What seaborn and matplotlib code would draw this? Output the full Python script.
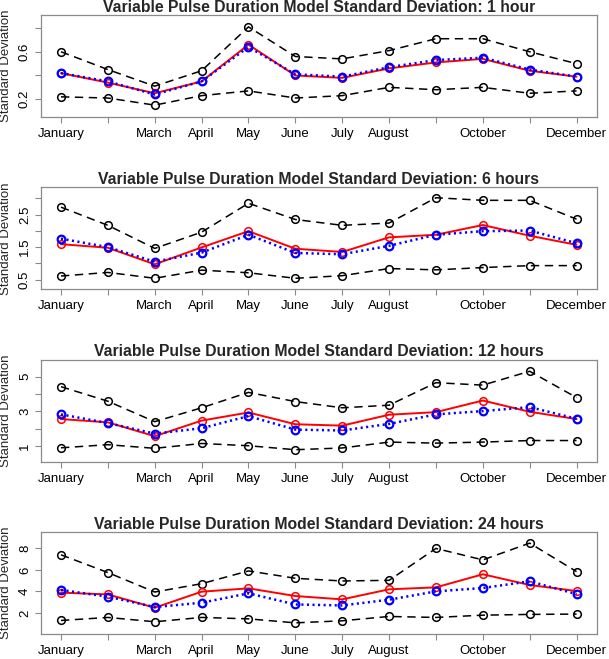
import matplotlib
matplotlib.use("Agg")
import matplotlib.pyplot as plt
import seaborn as sns
import numpy as np

month_num = list(range(1, 13))
month_labels = ["January", "", "March", "April", "May", "June", "July",
                "August", "", "October", "", "December"]
durations = ["1 hour", "6 hours", "12 hours", "24 hours"]

# 1 hour
upper_1 = [0.60, 0.45, 0.31, 0.44, 0.81, 0.56, 0.54, 0.61, 0.71, 0.71, 0.60, 0.50]
lower_1 = [0.22, 0.21, 0.15, 0.23, 0.27, 0.21, 0.23, 0.30, 0.28, 0.30, 0.25, 0.27]
red_1 = [0.42, 0.34, 0.25, 0.35, 0.66, 0.40, 0.38, 0.46, 0.51, 0.54, 0.44, 0.39]
blue_1 = [0.42, 0.35, 0.24, 0.35, 0.64, 0.41, 0.39, 0.47, 0.53, 0.55, 0.45, 0.39]

# 6 hours
upper_6 = [2.73, 2.17, 1.46, 1.96, 2.85, 2.35, 2.17, 2.24, 3.02, 2.94, 2.94, 2.36]
lower_6 = [0.61, 0.72, 0.54, 0.79, 0.71, 0.54, 0.62, 0.84, 0.80, 0.87, 0.93, 0.93]
red_6 = [1.59, 1.48, 0.97, 1.49, 1.99, 1.45, 1.35, 1.80, 1.88, 2.18, 1.85, 1.57]
blue_6 = [1.76, 1.50, 1.05, 1.33, 1.88, 1.32, 1.28, 1.54, 1.88, 1.99, 2.01, 1.62]

# 12 hours
upper_12 = [4.43, 3.59, 2.41, 3.21, 4.10, 3.57, 3.21, 3.36, 4.66, 4.52, 5.32, 3.80]
lower_12 = [0.90, 1.08, 0.87, 1.15, 1.02, 0.79, 0.89, 1.23, 1.17, 1.23, 1.32, 1.32]
red_12 = [2.56, 2.37, 1.57, 2.47, 2.94, 2.26, 2.18, 2.81, 2.96, 3.63, 2.98, 2.56]
blue_12 = [2.83, 2.33, 1.72, 2.03, 2.73, 1.95, 1.90, 2.28, 2.83, 3.02, 3.25, 2.58]

# 24 hours
upper_24 = [7.39, 5.75, 3.95, 4.72, 5.90, 5.22, 4.97, 5.03, 7.98, 6.92, 8.47, 5.84]
lower_24 = [1.32, 1.60, 1.20, 1.60, 1.47, 1.10, 1.29, 1.69, 1.60, 1.81, 1.88, 1.91]
red_24 = [3.89, 3.73, 2.50, 3.98, 4.29, 3.58, 3.27, 4.20, 4.38, 5.59, 4.60, 4.04]
blue_24 = [4.14, 3.52, 2.56, 2.96, 3.83, 2.80, 2.71, 3.24, 4.01, 4.32, 4.94, 3.76]

panels = [
    (upper_1, lower_1, red_1, blue_1),
    (upper_6, lower_6, red_6, blue_6),
    (upper_12, lower_12, red_12, blue_12),
    (upper_24, lower_24, red_24, blue_24),
]
ylims = [(0.05, 0.91), (0.2, 3.34), (0.1, 5.99), (0.07, 9.5)]
yticks = [[0.2, 0.4, 0.6, 0.8], [0.5, 1.0, 1.5, 2.0, 2.5, 3.0],
          [1, 2, 3, 4, 5], [2, 4, 6, 8]]
ytick_labels = [["0.2", "", "0.6", ""], ["0.5", "", "1.5", "", "2.5", ""],
                ["1", "", "3", "", "5"], ["2", "4", "6", "8"]]

sns.set_style("white")
plt.rcParams["font.family"] = ["Liberation Sans", "DejaVu Sans"]
plt.rcParams["lines.scale_dashes"] = False

W, H = 609, 659
fig = plt.figure(figsize=(W / 100, H / 100), dpi=100)
box_color = "#8a8a8a"

for i, (up, lo, red, blue) in enumerate(panels):
    top = 15 + 172.33 * i
    ax = fig.add_axes([40.7 / W, 1 - (top + 102) / H, 556 / W, 102 / H])

    sns.lineplot(x=month_num, y=up, ax=ax, color="black", lw=1.1,
                 linestyle=(0, (6, 4)), marker="o", markersize=5.5,
                 markerfacecolor="none", markeredgecolor="black",
                 markeredgewidth=1.1)
    sns.lineplot(x=month_num, y=lo, ax=ax, color="black", lw=1.1,
                 linestyle=(0, (6, 4)), marker="o", markersize=5.5,
                 markerfacecolor="none", markeredgecolor="black",
                 markeredgewidth=1.1)
    sns.lineplot(x=month_num, y=red, ax=ax, color="red", lw=1.4,
                 linestyle="-", marker="o", markersize=5.5,
                 markerfacecolor="none", markeredgecolor="red",
                 markeredgewidth=1.1)
    sns.lineplot(x=month_num, y=blue, ax=ax, color="blue", lw=1.8,
                 linestyle=(0, (1.5, 2.5)), marker="o", markersize=5.5,
                 markerfacecolor="none", markeredgecolor="blue",
                 markeredgewidth=1.6)

    ax.set_xlim(0.567, 12.43)
    ax.set_ylim(*ylims[i])
    ax.set_xticks(month_num)
    ax.set_xticklabels(month_labels)
    ax.set_yticks(yticks[i])
    ax.set_yticklabels(ytick_labels[i], rotation=90, va="center")
    ax.tick_params(axis="both", which="major", direction="out", length=4.5,
                   width=0.8, color=box_color, labelsize=9.5, labelcolor="black",
                   bottom=True, left=True)
    ax.tick_params(axis="x", pad=3.5)
    ax.tick_params(axis="y", pad=2.5)
    for s in ax.spines.values():
        s.set_color(box_color)
        s.set_linewidth(0.9)

    ax.set_xlabel("")
    ax.set_ylabel("Standard Deviation", fontsize=9.5)
    ax.yaxis.set_label_coords(-0.052, 0.5)
    ax.set_title("Variable Pulse Duration Model Standard Deviation: " + durations[i],
                 fontsize=11.3, fontweight="bold", pad=2.5)

fig.savefig("out.png", dpi=100)
